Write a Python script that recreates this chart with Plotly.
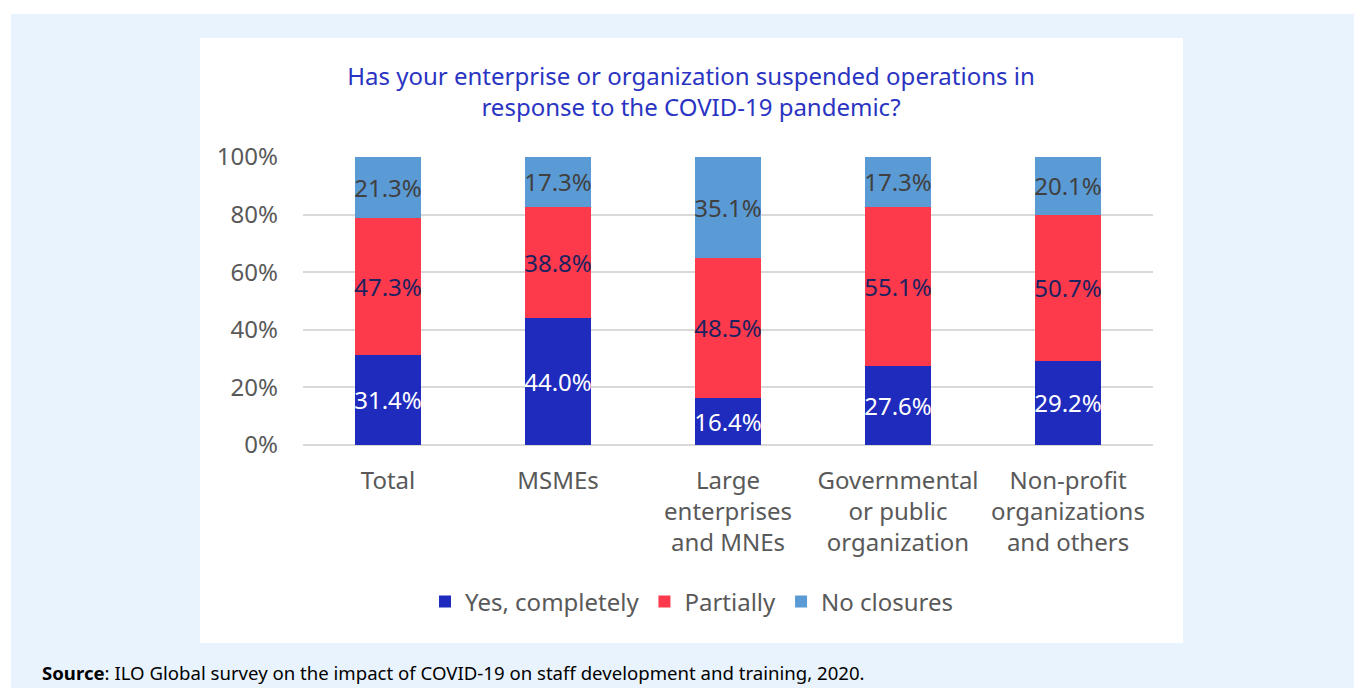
import plotly.graph_objects as go

categories = ["Total", "MSMEs", "Large<br>enterprises<br>and MNEs",
              "Governmental<br>or public<br>organization",
              "Non-profit<br>organizations<br>and others"]
yes_completely = [31.4, 44.0, 16.4, 27.6, 29.2]
partially = [47.3, 38.8, 48.5, 55.1, 50.7]
no_closures = [21.3, 17.3, 35.1, 17.3, 20.1]
y_ticks = [0, 20, 40, 60, 80, 100]
y_tick_labels = ["0%", "20%", "40%", "60%", "80%", "100%"]

OFF = 8  # page body margin
W, H = 1362 - OFF, 688 - OFF
PL, PR, PT, PB = 303, 1153, 157, 445  # plot area in screenshot pixels
FONT = "Noto Sans"


def px_x(x):
    return (x - PL) / (PR - PL)


def px_y(y):
    return (PB - y) / (PB - PT)


fig = go.Figure()
series = [
    ("Yes, completely", yes_completely, "#1f2bbd", "#ffffff"),
    ("Partially", partially, "#fd3a4b", "#1c2160"),
    ("No closures", no_closures, "#5b9bd5", "#404040"),
]
for name, vals, color, tcolor in series:
    fig.add_trace(go.Bar(
        name=name, x=categories, y=vals,
        marker=dict(color=color, line=dict(width=0)),
        text=vals, texttemplate="%{y:.1f}%", textposition="inside",
        insidetextanchor="middle", constraintext="none", textangle=0,
        textfont=dict(family=FONT, size=24, color=tcolor),
        hoverinfo="skip",
    ))

shapes = [
    dict(type="rect", xref="paper", yref="paper", layer="below",
         x0=px_x(11), x1=px_x(1370), y0=px_y(14), y1=px_y(700),
         fillcolor="#e9f3fd", line=dict(width=0)),
    dict(type="rect", xref="paper", yref="paper", layer="below",
         x0=px_x(200), x1=px_x(1183), y0=px_y(38), y1=px_y(643),
         fillcolor="#ffffff", line=dict(width=0)),
]

fig.update_layout(
    width=W, height=H,
    margin=dict(l=PL - OFF, r=W - (PR - OFF), t=PT - OFF, b=H - (PB - OFF),
                autoexpand=False),
    paper_bgcolor="#ffffff", plot_bgcolor="rgba(0,0,0,0)",
    barmode="stack", bargap=0.606,
    font=dict(family=FONT, color="#595959", size=24),
    title=dict(
        text="Has your enterprise or organization suspended operations in<br>response to the COVID-19 pandemic?",
        x=(691 - OFF) / W, xanchor="center", xref="container",
        y=1 - (84.5 - OFF) / H, yanchor="middle", yref="container",
        font=dict(family=FONT, size=24, color="#2a34c2"),
    ),
    showlegend=True,
    legend=dict(orientation="h", x=px_x(692), xanchor="center",
                y=px_y(602), yanchor="middle",
                font=dict(family=FONT, size=24, color="#595959"),
                bgcolor="rgba(0,0,0,0)", traceorder="normal",
                itemclick=False),
    shapes=shapes,
    annotations=[dict(
        text="<b>Source</b>: ILO Global survey on the impact of COVID-19 on staff development and training, 2020.",
        xref="paper", yref="paper", x=px_x(40), y=px_y(672),
        xanchor="left", yanchor="middle", showarrow=False,
        font=dict(family=FONT, size=18.6, color="#000000"),
    )],
)
fig.update_xaxes(showgrid=False, showline=False, ticks="",
                 tickfont=dict(family=FONT, size=24, color="#595959"),
                 ticklabelstandoff=19, fixedrange=True)
fig.update_yaxes(range=[0, 100], tickvals=y_ticks, ticktext=y_tick_labels,
                 showgrid=True, gridcolor="#d9d9d9", gridwidth=2,
                 zeroline=True, zerolinecolor="#d9d9d9", zerolinewidth=2,
                 tickfont=dict(family=FONT, size=24, color="#595959"),
                 ticklabelstandoff=24, fixedrange=True)

fig.write_html("out.html")
